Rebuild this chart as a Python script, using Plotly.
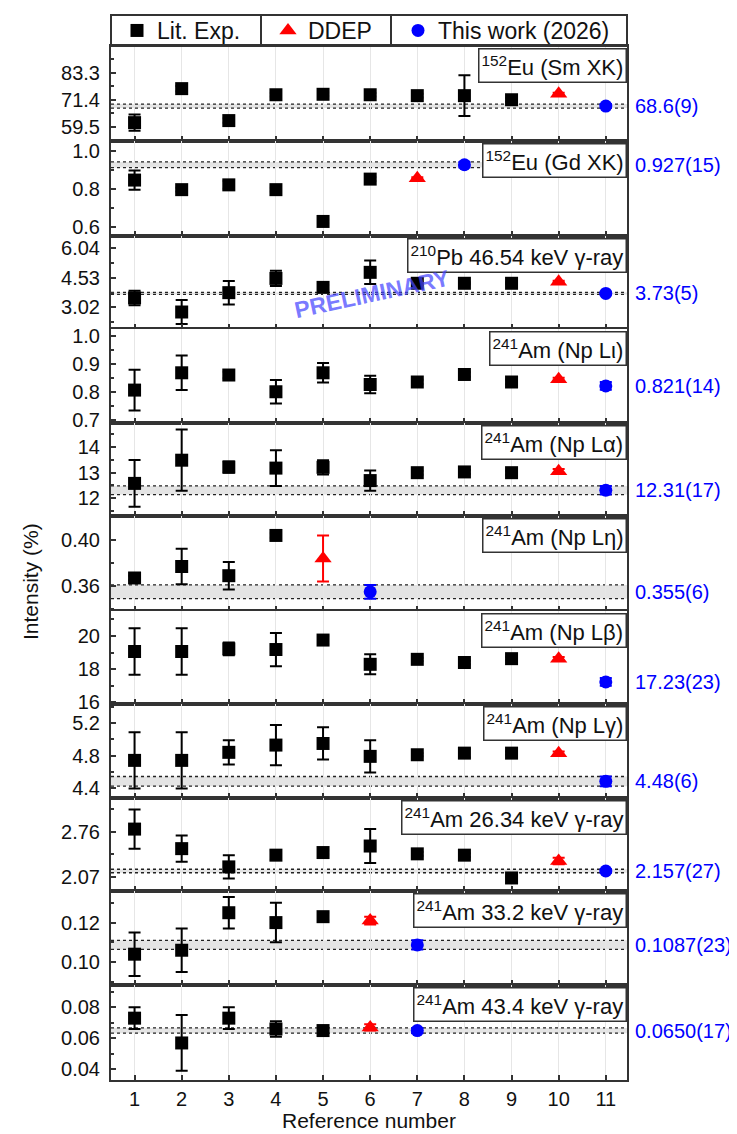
import plotly.graph_objects as go
from plotly.subplots import make_subplots

# ---------------- data ----------------
ref_numbers = list(range(1, 12))

# 152Eu (Sm XK)
sm_xk_lit = [61.3, 76.3, 62.2, 73.6, 73.8, 73.6, 73.2, 73.2, 71.4]
sm_xk_lit_err = [3.6, 1.2, 1.0, 0.8, 0.8, 0.8, 0.8, 9.0, 0.8]
sm_xk_ddep, sm_xk_ddep_err = [74.0], [0.5]
sm_xk_this, sm_xk_this_err = [68.6], [0.9]

# 152Eu (Gd XK)
gd_xk_lit = [0.847, 0.797, 0.822, 0.797, 0.631, 0.852]
gd_xk_lit_err = [0.05, 0.01, 0.02, 0.01, 0.01, 0.01]
gd_xk_ddep, gd_xk_ddep_err = [0.857], [0.005]
gd_xk_this, gd_xk_this_err = [0.927], [0.015]

# 210Pb 46.54 keV gamma
pb_46_lit = [3.50, 2.78, 3.77, 4.50, 4.04, 4.81, 4.25, 4.25, 4.25]
pb_46_lit_err = [0.37, 0.61, 0.60, 0.39, 0.12, 0.60, 0.05, 0.05, 0.05]
pb_46_ddep, pb_46_ddep_err = [4.33], [0.05]
pb_46_this, pb_46_this_err = [3.73], [0.05]

# 241Am (Np L-iota)
np_li_lit = [0.806, 0.868, 0.860, 0.800, 0.868, 0.826, 0.835, 0.862, 0.835]
np_li_lit_err = [0.073, 0.062, 0.012, 0.042, 0.035, 0.031, 0.008, 0.008, 0.008]
np_li_ddep, np_li_ddep_err = [0.845], [0.005]
np_li_this, np_li_this_err = [0.821], [0.014]

# 241Am (Np L-alpha)
np_la_lit = [12.58, 13.49, 13.22, 13.18, 13.21, 12.69, 13.00, 13.03, 13.00]
np_la_lit_err = [0.92, 1.20, 0.22, 0.70, 0.28, 0.40, 0.08, 0.08, 0.08]
np_la_ddep, np_la_ddep_err = [13.06], [0.08]
np_la_this, np_la_this_err = [12.31], [0.17]

# 241Am (Np L-eta)
np_le_lit = [0.367, 0.377, 0.369, 0.404]
np_le_lit_err = [0.002, 0.0155, 0.012, 0.002]
np_le_ddep, np_le_ddep_err = [0.384], [0.020]
np_le_this, np_le_this_err = [0.355], [0.006]

# 241Am (Np L-beta)
np_lb_lit = [19.06, 19.06, 19.22, 19.18, 19.75, 18.29, 18.59, 18.40, 18.63]
np_lb_lit_err = [1.40, 1.40, 0.38, 1.00, 0.25, 0.60, 0.10, 0.10, 0.10]
np_lb_ddep, np_lb_ddep_err = [18.63], [0.10]
np_lb_this, np_lb_this_err = [17.23], [0.23]

# 241Am (Np L-gamma)
np_lg_lit = [4.74, 4.74, 4.84, 4.93, 4.95, 4.79, 4.81, 4.83, 4.83]
np_lg_lit_err = [0.35, 0.35, 0.15, 0.25, 0.20, 0.20, 0.02, 0.05, 0.02]
np_lg_ddep, np_lg_ddep_err = [4.83], [0.02]
np_lg_this, np_lg_this_err = [4.48], [0.06]

# 241Am 26.34 keV gamma
am_26_lit = [2.80, 2.50, 2.22, 2.40, 2.44, 2.54, 2.42, 2.40, 2.05]
am_26_lit_err = [0.30, 0.20, 0.18, 0.07, 0.03, 0.26, 0.03, 0.03, 0.02]
am_26_ddep, am_26_ddep_err = [2.31], [0.05]
am_26_this, am_26_this_err = [2.157], [0.027]

# 241Am 33.2 keV gamma
am_33_lit = [0.104, 0.106, 0.125, 0.120, 0.123]
am_33_lit_err = [0.011, 0.011, 0.008, 0.010, 0.002]
am_33_ddep, am_33_ddep_err = [0.121], [0.002]
am_33_this, am_33_this_err = [0.1087], [0.0023]

# 241Am 43.4 keV gamma
am_43_lit = [0.073, 0.057, 0.073, 0.066, 0.065]
am_43_lit_err = [0.007, 0.018, 0.007, 0.005, 0.001]
am_43_ddep, am_43_ddep_err = [0.067], [0.002]
am_43_this, am_43_this_err = [0.0650], [0.0017]

panel_labels = [
    "<sup>152</sup>Eu (Sm XK)",
    "<sup>152</sup>Eu (Gd XK)",
    "<sup>210</sup>Pb 46.54 keV \u03b3-ray",
    "<sup>241</sup>Am (Np L\u03b9)",
    "<sup>241</sup>Am (Np L\u03b1)",
    "<sup>241</sup>Am (Np L\u03b7)",
    "<sup>241</sup>Am (Np L\u03b2)",
    "<sup>241</sup>Am (Np L\u03b3)",
    "<sup>241</sup>Am 26.34 keV \u03b3-ray",
    "<sup>241</sup>Am 33.2 keV \u03b3-ray",
    "<sup>241</sup>Am 43.4 keV \u03b3-ray",
]
this_work_labels = ["68.6(9)", "0.927(15)", "3.73(5)", "0.821(14)", "12.31(17)",
                    "0.355(6)", "17.23(23)", "4.48(6)", "2.157(27)",
                    "0.1087(23)", "0.0650(17)"]

panels = [
    (sm_xk_lit, sm_xk_lit_err, sm_xk_ddep, sm_xk_ddep_err, sm_xk_this, sm_xk_this_err),
    (gd_xk_lit, gd_xk_lit_err, gd_xk_ddep, gd_xk_ddep_err, gd_xk_this, gd_xk_this_err),
    (pb_46_lit, pb_46_lit_err, pb_46_ddep, pb_46_ddep_err, pb_46_this, pb_46_this_err),
    (np_li_lit, np_li_lit_err, np_li_ddep, np_li_ddep_err, np_li_this, np_li_this_err),
    (np_la_lit, np_la_lit_err, np_la_ddep, np_la_ddep_err, np_la_this, np_la_this_err),
    (np_le_lit, np_le_lit_err, np_le_ddep, np_le_ddep_err, np_le_this, np_le_this_err),
    (np_lb_lit, np_lb_lit_err, np_lb_ddep, np_lb_ddep_err, np_lb_this, np_lb_this_err),
    (np_lg_lit, np_lg_lit_err, np_lg_ddep, np_lg_ddep_err, np_lg_this, np_lg_this_err),
    (am_26_lit, am_26_lit_err, am_26_ddep, am_26_ddep_err, am_26_this, am_26_this_err),
    (am_33_lit, am_33_lit_err, am_33_ddep, am_33_ddep_err, am_33_this, am_33_this_err),
    (am_43_lit, am_43_lit_err, am_43_ddep, am_43_ddep_err, am_43_this, am_43_this_err),
]

# ---------------- axis / style configuration ----------------
y_axes = [
    dict(range=[53.2, 95.1], tick0=59.5, dtick=11.9, fmt=".1f"),
    dict(range=[0.555, 1.051], tick0=0.6, dtick=0.2, fmt=".1f"),
    dict(range=[1.91, 6.67], tick0=3.02, dtick=1.51, fmt=".2f"),
    dict(range=[0.688, 1.025], tick0=0.7, dtick=0.1, fmt=".1f"),
    dict(range=[11.3, 14.95], tick0=12, dtick=1, fmt="d"),
    dict(range=[0.3383, 0.4209], tick0=0.36, dtick=0.04, fmt=".2f"),
    dict(range=[15.9, 21.5], tick0=16, dtick=2, fmt="d"),
    dict(range=[4.273, 5.44], tick0=4.4, dtick=0.4, fmt=".1f"),
    dict(range=[1.85, 3.277], tick0=2.07, dtick=0.69, fmt=".2f"),
    dict(range=[0.0884, 0.136], tick0=0.10, dtick=0.02, fmt=".2f"),
    dict(range=[0.0331, 0.0944], tick0=0.04, dtick=0.02, fmt=".2f"),
]
row_heights = [95, 95, 93, 94, 93, 95, 93, 94, 93, 94, 95]

FONT = "Liberation Sans, Arial, sans-serif"
AX = "#333333"
TXT = "#111111"
BLACK, RED, BLUE = "#000000", "#ff0000", "#0000ff"

n = len(panels)
fig = make_subplots(rows=n, cols=1, shared_xaxes=True, vertical_spacing=0,
                    row_heights=row_heights)

for i, (lit, lit_e, dd, dd_e, tw, tw_e) in enumerate(panels):
    row = i + 1
    first = (i == 0)
    nl = len(lit)
    x_lit = ref_numbers[:nl]
    x_dd = ref_numbers[nl:nl + 1]
    x_tw = ref_numbers[nl + 1:nl + 2]
    fig.add_trace(go.Scatter(
        x=x_lit, y=lit, mode="markers", name="Lit. Exp.",
        marker=dict(symbol="square", size=13, color=BLACK),
        error_y=dict(type="data", array=lit_e, color=BLACK, thickness=2, width=6),
        legend="legend", showlegend=first, legendgroup="lit"), row=row, col=1)
    fig.add_trace(go.Scatter(
        x=x_dd, y=dd, mode="markers", name="DDEP",
        marker=dict(symbol="triangle-up", size=15, color=RED),
        error_y=dict(type="data", array=dd_e, color=RED, thickness=2, width=6),
        legend="legend2", showlegend=first, legendgroup="ddep"), row=row, col=1)
    fig.add_trace(go.Scatter(
        x=x_tw, y=tw, mode="markers", name="This work (2026)",
        marker=dict(symbol="circle", size=13, color=BLUE),
        error_y=dict(type="data", array=tw_e, color=BLUE, thickness=2, width=6),
        legend="legend3", showlegend=first, legendgroup="tw"), row=row, col=1)

    xs = "" if row == 1 else str(row)
    xref_dom = f"x{xs} domain"
    yref = f"y{xs}"
    v, u = tw[0], tw_e[0]
    # uncertainty band of this work
    fig.add_shape(type="rect", xref=xref_dom, yref=yref, x0=0, x1=1,
                  y0=v - u, y1=v + u, fillcolor="#e4e4e4", line_width=0,
                  layer="below")
    for yy in (v - u, v + u):
        fig.add_shape(type="line", xref=xref_dom, yref=yref, x0=0, x1=1,
                      y0=yy, y1=yy, line=dict(color="#222222", width=1.3, dash="dot"),
                      layer="below")
    # panel label box
    fig.add_annotation(xref=xref_dom, yref=f"y{xs} domain", x=1, y=1,
                       xanchor="right", yanchor="top", yshift=-2,
                       text=panel_labels[i], showarrow=False,
                       font=dict(family=FONT, size=22, color=TXT),
                       bgcolor="white", bordercolor=AX, borderwidth=1.5, borderpad=2)
    # value label on the right
    fig.add_annotation(xref=xref_dom, yref=yref, x=1, y=v, xanchor="left",
                       yanchor="middle", xshift=6, text=this_work_labels[i],
                       showarrow=False, font=dict(family=FONT, size=20, color=BLUE))

    ya = y_axes[i]
    fig.update_yaxes(row=row, col=1, range=ya["range"], tick0=ya["tick0"],
                     dtick=ya["dtick"], tickformat=ya["fmt"],
                     ticks="inside", ticklen=5, tickwidth=1.5, tickcolor=AX,
                     minor=dict(ticks="inside", ticklen=3, tickcolor=AX,
                                tick0=ya["tick0"], dtick=ya["dtick"] / 2),
                     showgrid=False, zeroline=False,
                     showline=True, mirror=True, linecolor=AX, linewidth=2,
                     ticklabelstandoff=5,
                     tickfont=dict(family=FONT, size=20, color=TXT))
    fig.update_xaxes(row=row, col=1, range=[0.5, 11.45], tick0=1, dtick=1,
                     ticks="inside", ticklen=5, tickwidth=1.5, tickcolor=AX,
                     showgrid=True, gridcolor="#e6e6e6", gridwidth=1,
                     zeroline=False, showline=True, mirror=True,
                     linecolor=AX, linewidth=2,
                     tickfont=dict(family=FONT, size=20, color=TXT))

# x axis title
fig.add_annotation(xref="paper", yref="paper", x=0.5, y=0, xanchor="center",
                   yanchor="bottom", yshift=-53, borderpad=0,
                   text="Reference number", showarrow=False,
                   font=dict(family=FONT, size=21, color=TXT))

# y axis title
fig.add_annotation(xref="paper", yref="paper", x=0, y=0.4816, xanchor="center",
                   yanchor="middle", xshift=-81, textangle=-90,
                   text="Intensity (%)", showarrow=False,
                   font=dict(family=FONT, size=21, color=TXT))

# watermark
fig.add_annotation(xref="x3 domain", yref="y3 domain", x=0.505, y=0.38,
                   text="<b>PRELIMINARY</b>", showarrow=False, textangle=-12,
                   font=dict(family=FONT, size=23, color="rgba(70,70,255,0.72)"))

# legend box with cell dividers
top_paper = 1 + 31 / 1034
fig.add_shape(type="rect", xref="paper", yref="paper", x0=0, x1=1, y0=1,
              y1=top_paper, line=dict(color=AX, width=2), fillcolor="rgba(0,0,0,0)")
for xd in ((261 - 111) / 516, (391 - 111) / 516):
    fig.add_shape(type="line", xref="paper", yref="paper", x0=xd, x1=xd, y0=1,
                  y1=top_paper, line=dict(color=AX, width=2))

leg_common = dict(orientation="h", yanchor="middle", y=1 + 15.5 / 1034,
                  xanchor="left", bgcolor="rgba(0,0,0,0)", borderwidth=0,
                  font=dict(family=FONT, size=23, color=TXT))
fig.update_layout(
    legend=dict(x=(117 - 111) / 516, **leg_common),
    legend2=dict(x=(268 - 111) / 516, **leg_common),
    legend3=dict(x=(398 - 111) / 516, **leg_common),
)

# the page body adds an 8 px offset, so the figure is sized to fit the window
fig.update_layout(
    width=729, height=1126,
    margin=dict(l=103, r=110, t=38, b=54, autoexpand=False),
    paper_bgcolor="white", plot_bgcolor="white",
    font=dict(family=FONT, size=20, color=TXT),
)

fig.write_html("out.html")
